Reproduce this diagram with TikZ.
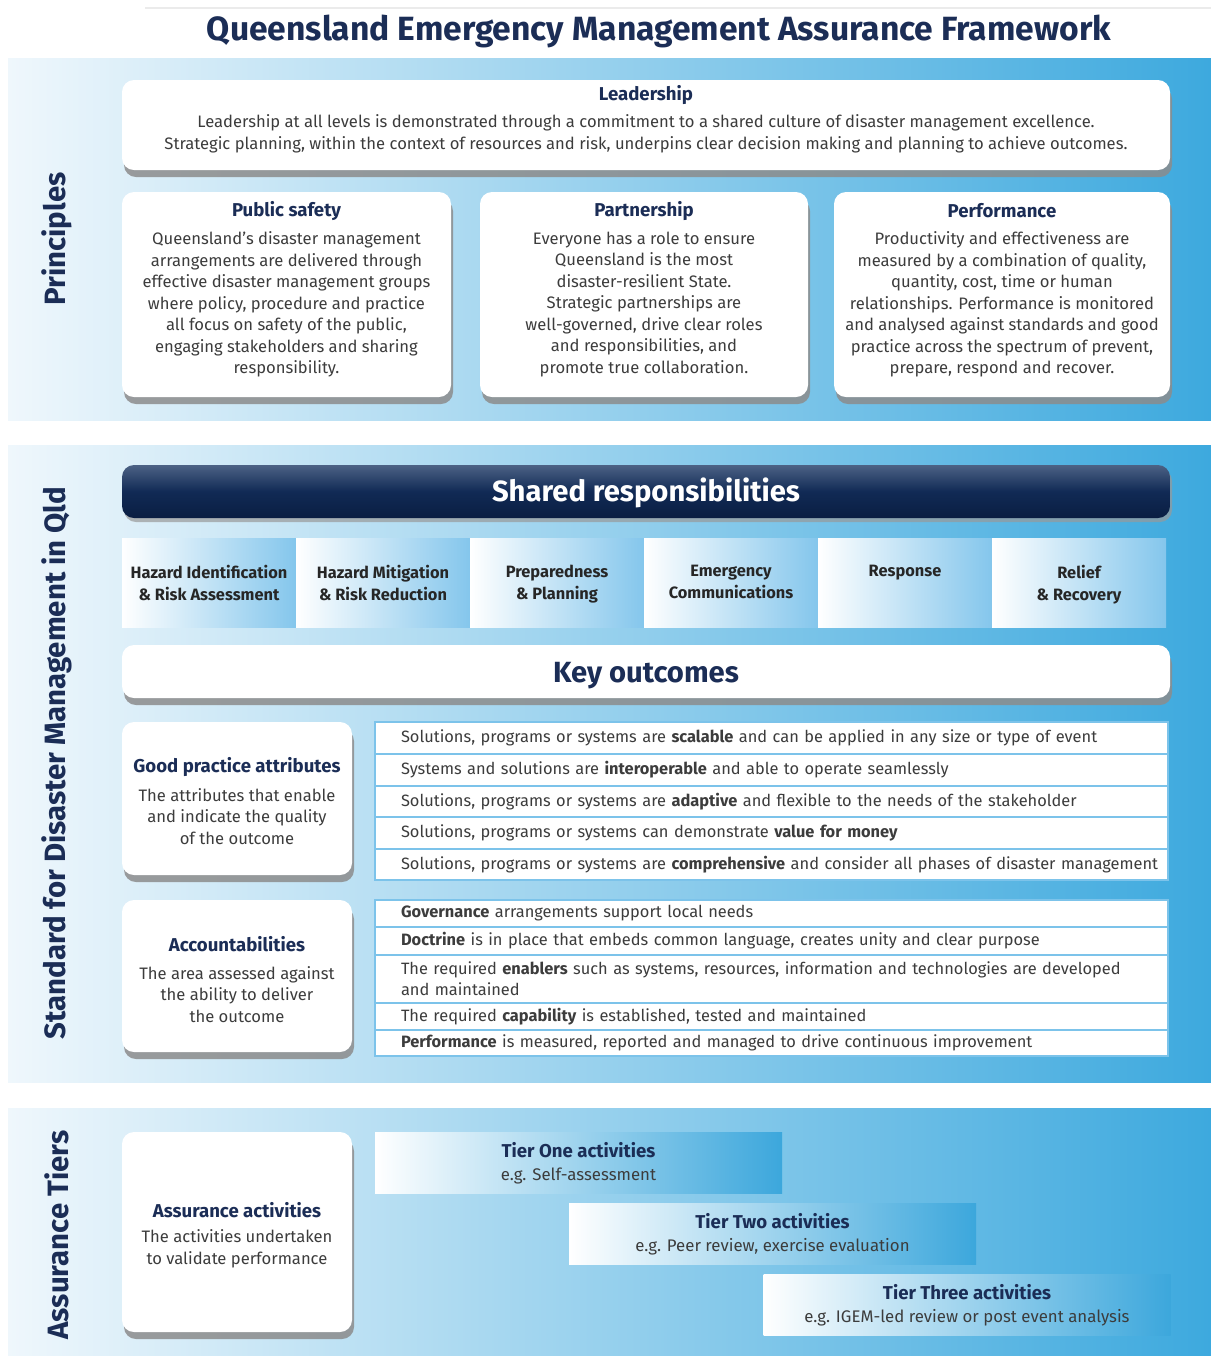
\documentclass[tikz,border=0pt]{standalone}
\usepackage{fontspec}
\setmainfont{Fira Sans}
\usetikzlibrary{shadows}
\hyphenpenalty=10000\relax
\definecolor{navy}{HTML}{1B2D56}
\definecolor{barnavy}{HTML}{112A55}
\definecolor{bartop}{HTML}{4C6285}
\definecolor{barbot}{HTML}{0A1E42}
\definecolor{bodyc}{HTML}{3C3C3C}
\definecolor{celltc}{HTML}{262626}
\definecolor{bandL}{HTML}{EFF7FC}
\definecolor{bandM}{HTML}{B3DBF2}
\definecolor{bandR}{HTML}{3DA9DE}
\definecolor{cellR}{HTML}{84C6EC}
\definecolor{tierR}{HTML}{3CA7DC}
\definecolor{rowline}{HTML}{7CC3EA}
\newcommand\tiertitlefont{\bfseries\fontsize{9.3}{11}\selectfont}
\newcommand\rind{\hspace*{10.75pt}}
\tikzset{
  band/.style={left color=bandL, middle color=bandM, right color=bandR},
  box/.style={rounded corners=6pt, fill=white, inner sep=0pt,
    drop shadow={shadow xshift=1pt, shadow yshift=-3.5pt, fill=black!45, opacity=0.85}},
  ttl/.style={font=\bfseries\fontsize{9.3}{11}\selectfont, text=navy},
  body/.style={font=\fontsize{8.3}{10.75}\selectfont, text=bodyc, align=center},
  side/.style={font=\bfseries\fontsize{14.7}{17}\selectfont, text=navy, rotate=90},
  cellbox/.style={left color=white, right color=cellR, minimum width=87pt, minimum height=44.5pt, inner sep=0pt},
  celltxt/.style={font=\bfseries\fontsize{8.2}{11}\selectfont, text=celltc, align=center, anchor=north},
  rowbox/.style={draw=rowline, fill=white, line width=0.8pt, text width=392pt, inner xsep=2.25pt, inner ysep=0pt,
    align=left, font=\fontsize{8.2}{10.5}\selectfont, text=bodyc},
  tierbox/.style={left color=white, right color=tierR, minimum width=203.5pt, minimum height=30.5pt, inner sep=0pt},
  tiertxt/.style={align=center, text=bodyc, font=\fontsize{8.4}{11.5}\selectfont},
  bigbar/.style={rounded corners=6pt, minimum width=524pt, minimum height=26.5pt, inner sep=0pt}
}
\begin{document}
\begin{tikzpicture}[x=0.5pt,y=-0.5pt]
\useasboundingbox (0,0) rectangle (1211,1356);
\fill[white] (0,0) rectangle (1211,1356);
\draw[black!8, line width=0.6pt] (145,8) -- (1211,8);
% title
\node[font=\bfseries\fontsize{16.8}{19}\selectfont, text=navy] (title) at (659,31) {Queensland Emergency Management Assurance Framework};
% bands
\shade[band] (8,58) rectangle (1211,420);
\shade[band] (8,445) rectangle (1211,1082);
\shade[band] (8,1108) rectangle (1211,1356);
\node[side] (sprin) at (57,239) {Principles};
\node[side] (sstd) at (57,763) {Standard for Disaster Management in Qld};
\node[side] (stier) at (57,1235) {Assurance Tiers};
% ---- Principles ----
\node[box, minimum width=524pt, minimum height=45pt] (lead) at (646,125) {};
\node[ttl] (leadt) at (646,95) {Leadership};
\node[body] (leadb) at (646,134) {Leadership at all levels is demonstrated through a commitment to a shared culture of disaster management excellence.\\Strategic planning, within the context of resources and risk, underpins clear decision making and planning to achieve outcomes.};

\node[box, minimum width=164.5pt, minimum height=102.5pt] (ps) at (286.5,294.5) {};
\node[ttl] (pst) at (286.5,211) {Public safety};
\node[body] (psb) at (286.5,304.5) {Queensland’s disaster management\\arrangements are delivered through\\effective disaster management groups\\where policy, procedure and practice\\all focus on safety of the public,\\engaging stakeholders and sharing\\responsibility.};

\node[box, minimum width=164pt, minimum height=102.5pt] (pa) at (644,294.5) {};
\node[ttl] (pat) at (644,211) {Partnership};
\node[body] (pab) at (644,304.5) {Everyone has a role to ensure\\Queensland is the most\\disaster-resilient State.\\Strategic partnerships are\\well-governed, drive clear roles\\and responsibilities, and\\promote true collaboration.};

\node[box, minimum width=168pt, minimum height=102.5pt] (pe) at (1002,294.5) {};
\node[ttl] (pet) at (1002,211) {Performance};
\node[body] (peb) at (1002,304.5) {Productivity and effectiveness are\\measured by a combination of quality,\\quantity, cost, time or human\\relationships. Performance is monitored\\and analysed against standards and good\\practice across the spectrum of prevent,\\prepare, respond and recover.};
% ---- Standard ----
\node[bigbar, top color=bartop, bottom color=barbot, middle color=barnavy,
  drop shadow={shadow xshift=1pt, shadow yshift=-2pt, fill=black!40, opacity=0.7}] (shared) at (646,491.5) {};
\node[font=\bfseries\fontsize{14.6}{17}\selectfont, text=white] (sharedt) at (646,493) {Shared responsibilities};

\node[cellbox] (c1) at (209,582.5) {};
\node[cellbox] (c2) at (383,582.5) {};
\node[cellbox] (c3) at (557,582.5) {};
\node[cellbox] (c4) at (731,582.5) {};
\node[cellbox] (c5) at (905,582.5) {};
\node[cellbox] (c6) at (1079,582.5) {};
\node[celltxt] (c1t) at (209,558) {Hazard Identification\\\& Risk Assessment};
\node[celltxt] (c2t) at (383,558) {Hazard Mitigation\\\& Risk Reduction};
\node[celltxt] (c3t) at (557,558) {Preparedness\\\& Planning};
\node[celltxt] (c4t) at (731,558) {Emergency\\Communications};
\node[celltxt] (c5t) at (905,558) {Response};
\node[celltxt] (c6t) at (1079,558) {Relief\\\& Recovery};

\node[bigbar, box] (keyo) at (646,671.5) {};
\node[font=\bfseries\fontsize{14.6}{17}\selectfont, text=navy] (keyot) at (646,676) {Key outcomes};

\node[box, minimum width=115pt, minimum height=76.5pt] (gp) at (237,798.5) {};
\node[ttl] (gpt) at (237,767) {Good practice attributes};
\node[body] (gpb) at (237,816.5) {The attributes that enable\\and indicate the quality\\of the outcome};

\node[rowbox, minimum height=16pt] (r1) at (771.5,738) {\rind Solutions, programs or systems are \textbf{scalable} and can be applied in any size or type of event};
\node[rowbox, minimum height=16pt] (r2) at (771.5,770) {\rind Systems and solutions are \textbf{interoperable} and able to operate seamlessly};
\node[rowbox, minimum height=15.5pt] (r3) at (771.5,801.5) {\rind Solutions, programs or systems are \textbf{adaptive} and flexible to the needs of the stakeholder};
\node[rowbox, minimum height=16pt] (r4) at (771.5,833) {\rind Solutions, programs or systems can demonstrate \textbf{value for money}};
\node[rowbox, minimum height=15.5pt] (r5) at (771.5,864.5) {\rind Solutions, programs or systems are \textbf{comprehensive} and consider all phases of disaster management};

\node[box, minimum width=115pt, minimum height=76pt] (ac) at (237,976) {};
\node[ttl] (act) at (237,944) {Accountabilities};
\node[body] (acb) at (237,994.5) {The area assessed against\\the ability to deliver\\the outcome};

\node[rowbox, minimum height=13.5pt] (a1) at (771.5,913.5) {\rind\textbf{Governance} arrangements support local needs};
\node[rowbox, minimum height=14pt] (a2) at (771.5,941) {\rind\textbf{Doctrine} is in place that embeds common language, creates unity and clear purpose};
\node[rowbox, minimum height=24pt] (a3) at (771.5,979) {\rind The required \textbf{enablers} such as systems, resources, information and technologies are developed\\\rind and maintained};
\node[rowbox, minimum height=13.5pt] (a4) at (771.5,1016.5) {\rind The required \textbf{capability} is established, tested and maintained};
\node[rowbox, minimum height=13pt] (a5) at (771.5,1043) {\rind\textbf{Performance} is measured, reported and managed to drive continuous improvement};
% ---- Tiers ----
\node[box, minimum width=115pt, minimum height=100pt] (aa) at (237,1232) {};
\node[ttl] (aat) at (237,1210) {Assurance activities};
\node[body] (aab) at (237,1249) {The activities undertaken\\to validate performance};

\node[tierbox] (t1) at (578.5,1162.5) {};
\node[tiertxt] (t1t) at (578.5,1163.5) {\textcolor{navy}{\tiertitlefont Tier One activities}\\e.g. Self-assessment};
\node[tierbox] (t2) at (772.5,1233.5) {};
\node[tiertxt] (t2t) at (772.5,1234.5) {\textcolor{navy}{\tiertitlefont Tier Two activities}\\e.g. Peer review, exercise evaluation};
\node[tierbox] (t3) at (967,1304.5) {};
\node[tiertxt] (t3t) at (967,1305.5) {\textcolor{navy}{\tiertitlefont Tier Three activities}\\e.g. IGEM-led review or post event analysis};
\end{tikzpicture}
\end{document}
